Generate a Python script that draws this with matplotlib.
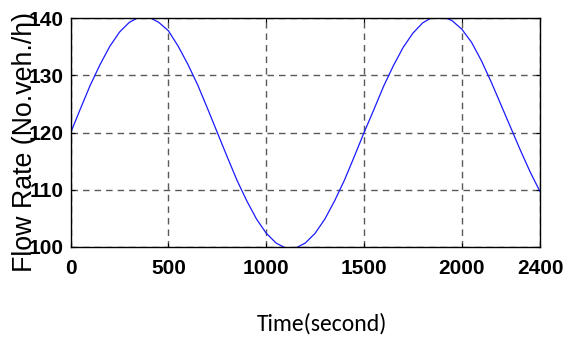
import matplotlib
matplotlib.use("Agg")
import matplotlib.pyplot as plt
from matplotlib import font_manager

time_s = [0, 50, 100, 150, 200, 250, 300, 350, 400, 450, 500, 550, 600, 650, 700,
          750, 800, 850, 900, 950, 1000, 1050, 1100, 1150, 1200, 1250, 1300, 1350,
          1400, 1450, 1500, 1550, 1600, 1650, 1700, 1750, 1800, 1850, 1900, 1950,
          2000, 2050, 2100, 2150, 2200, 2250, 2300, 2350, 2400]
flow = [120.0, 124.2, 128.3, 131.9, 135.1, 137.6, 139.3, 140.2, 140.2, 139.3,
        137.8, 135.1, 131.9, 128.3, 124.2, 120.0, 115.8, 111.7, 108.1, 104.9,
        102.4, 100.7, 99.8, 99.8, 100.7, 102.4, 104.9, 108.1, 111.7, 115.8,
        120.0, 124.0, 128.1, 131.7, 134.9, 137.4, 139.2, 140.2, 140.3, 139.6,
        138.1, 135.8, 132.6, 128.9, 124.9, 120.9, 116.9, 113.1, 109.7]
x_ticks = [0, 500, 1000, 1500, 2000, 2400]
y_ticks = [100, 110, 120, 130, 140]
x_label = "Time(second)"
y_label = "Flow Rate (No.veh./h)"

names = {f.name for f in font_manager.fontManager.ttflist}
tick_font = "Liberation Sans Narrow" if "Liberation Sans Narrow" in names else "Liberation Sans"
xl_font = "Carlito" if "Carlito" in names else "Lato"

fig = plt.figure(figsize=(5.71, 3.40), dpi=100)
ax = fig.add_axes([70.7 / 571, 1 - 247 / 340, (540 - 70.7) / 571, (247 - 18.3) / 340])

ax.plot(time_s, flow, color="#1a1aff", lw=0.9)
ax.set_xlim(0, 2400)
ax.set_ylim(100, 140)
ax.set_xticks(x_ticks)
ax.set_yticks(y_ticks)
ax.grid(True, color="0.35", lw=1.0, linestyle=(0, (4.7, 3.6)))
for s in ax.spines.values():
    s.set_linewidth(1.0)
    s.set_color("black")

ax.tick_params(direction="in", length=3, width=0.8, top=True, right=True,
               labelsize=15)
ax.tick_params(axis="x", pad=9)
ax.tick_params(axis="y", pad=5)
for lab in ax.get_xticklabels() + ax.get_yticklabels():
    lab.set_fontfamily(tick_font)
    lab.set_fontweight("bold")

fig.text(25 / 571, 1 - 142 / 340, y_label, rotation=90, ha="center", va="center",
         fontsize=19.3, family="Liberation Sans")
fig.text(322 / 571, 1 - 324 / 340, x_label, ha="center", va="center",
         fontsize=17, family=xl_font)

fig.savefig("out.png", dpi=100)
